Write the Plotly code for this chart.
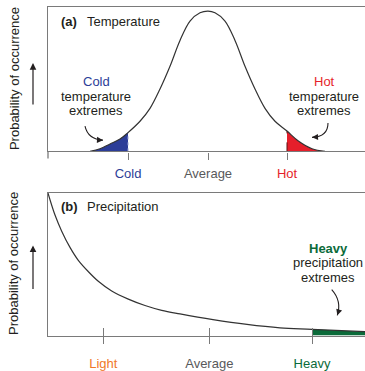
import plotly.graph_objects as go

# ---------------- data ----------------
# Panel (a): temperature distribution (x: temperature offset, y: relative probability)
temp_x = [-11.8, -10.8, -9.8, -8.8, -8.0, -6.8, -5.8, -4.8, -3.8, -2.8, -1.8, -0.8,
          0.0, 0.7, 1.7, 2.7, 3.7, 4.7, 5.7, 6.7, 7.9, 9.0, 10.4, 11.7]
temp_p = [0.0, 0.019, 0.053, 0.088, 0.134, 0.215, 0.307, 0.445, 0.607, 0.791, 0.929, 0.988,
          1.0, 0.988, 0.929, 0.791, 0.607, 0.445, 0.307, 0.215, 0.145, 0.076, 0.019, 0.0]
temp_tick_vals = [-8.0, 0.0, 7.9]
temp_tick_labels = ["Cold", "Average", "Hot"]

# Panel (b): precipitation distribution
prec_x = [0.0, 0.7, 1.37, 2.2, 3.03, 4.03, 5.03, 6.37, 8.03, 9.7, 11.37, 13.2,
          16.5, 19.9, 23.2, 26.4, 31.7]
prec_p = [1.0, 0.846, 0.733, 0.619, 0.528, 0.449, 0.381, 0.313, 0.256, 0.211, 0.177, 0.152,
          0.112, 0.078, 0.054, 0.044, 0.027]
prec_tick_vals = [5.53, 16.13, 26.4]
prec_tick_labels = ["Light", "Average", "Heavy"]

# ---------------- styles ----------------
FONT = "Liberation Sans, Arial, Helvetica, sans-serif"
TXT = "#231f20"
GREY = "#58595b"
AXC = "#7a7a7a"
BLUE = "#2c3d98"
RED = "#e51f2b"
GREEN = "#0b6b3a"
ORANGE = "#f0782a"
FS = 13

W, H = 365, 371
cold_cut, hot_cut = temp_tick_vals[0], temp_tick_vals[2]
heavy_cut = prec_tick_vals[2]

fig = go.Figure()

# --- panel (a) fills ---
cold_idx = [i for i, v in enumerate(temp_x) if v <= cold_cut]
hot_idx = [i for i, v in enumerate(temp_x) if v >= hot_cut]
fig.add_trace(go.Scatter(x=[temp_x[i] for i in cold_idx], y=[temp_p[i] for i in cold_idx],
                         mode="lines", line=dict(width=0, shape="spline"), fill="tozeroy",
                         fillcolor=BLUE, xaxis="x", yaxis="y", hoverinfo="skip"))
fig.add_trace(go.Scatter(x=[temp_x[i] for i in hot_idx], y=[temp_p[i] for i in hot_idx],
                         mode="lines", line=dict(width=0, shape="spline"), fill="tozeroy",
                         fillcolor=RED, xaxis="x", yaxis="y", hoverinfo="skip"))
ci = cold_idx[-1]
hi = hot_idx[0]
fig.add_trace(go.Scatter(x=[temp_x[ci], temp_x[ci]], y=[0, temp_p[ci]], mode="lines",
                         line=dict(color="#9aa3d6", width=1, dash="dot"),
                         xaxis="x", yaxis="y", hoverinfo="skip"))
fig.add_trace(go.Scatter(x=[temp_x[hi], temp_x[hi]], y=[0, temp_p[hi]], mode="lines",
                         line=dict(color="#5a1010", width=1, dash="dash"),
                         xaxis="x", yaxis="y", hoverinfo="skip"))
# curve
fig.add_trace(go.Scatter(x=temp_x, y=temp_p, mode="lines",
                         line=dict(color="#333333", width=1.2, shape="spline"),
                         xaxis="x", yaxis="y", hoverinfo="skip"))

# --- panel (b) ---
heavy_idx = [i for i, v in enumerate(prec_x) if v >= heavy_cut]
fig.add_trace(go.Scatter(x=[prec_x[i] for i in heavy_idx], y=[prec_p[i] for i in heavy_idx],
                         mode="lines", line=dict(width=0, shape="spline"), fill="tozeroy",
                         fillcolor=GREEN, xaxis="x2", yaxis="y2", hoverinfo="skip"))
fig.add_trace(go.Scatter(x=prec_x, y=prec_p, mode="lines",
                         line=dict(color="#333333", width=1.2, shape="spline"),
                         xaxis="x2", yaxis="y2", hoverinfo="skip"))

dom_x = [48 / W, 1.0]
dom_a = [1 - 156 / H, 1 - 7 / H]
dom_b = [1 - 345.8 / H, 1 - 199 / H]


def colored(labels, colors):
    return [f'<span style="color:{c}">{t}</span>' for t, c in zip(labels, colors)]


xcommon = dict(showgrid=False, zeroline=False, showline=True, linecolor=AXC, linewidth=1.3,
               mirror=True, ticks="outside", ticklen=7, tickcolor=AXC, tickwidth=1.2,
               tickfont=dict(family=FONT, size=FS, color=GREY), fixedrange=True)
ycommon = dict(showgrid=False, zeroline=False, showline=True, linecolor=AXC, linewidth=1.3,
               showticklabels=False, ticks="", fixedrange=True)

fig.update_layout(
    width=W, height=H, margin=dict(l=0, r=0, t=0, b=0),
    paper_bgcolor="white", plot_bgcolor="white", showlegend=False,
    font=dict(family=FONT, size=FS, color=TXT),
    xaxis=dict(domain=dom_x, anchor="y", range=[-16.0, 15.7],
               tickvals=temp_tick_vals,
               ticktext=colored(temp_tick_labels, [BLUE, GREY, RED]),
               ticklabelstandoff=3, **xcommon),
    yaxis=dict(domain=dom_a, anchor="x", range=[0, 1.031], **ycommon),
    xaxis2=dict(domain=dom_x, anchor="y2", range=[0, 31.7],
                tickvals=prec_tick_vals,
                ticktext=colored(prec_tick_labels, [ORANGE, GREY, GREEN]),
                ticklabelstandoff=9, **xcommon),
    yaxis2=dict(domain=dom_b, anchor="x2", range=[0, 1.0], **ycommon),
    # inner half of the crossing ticks on panel (b)
    xaxis3=dict(domain=dom_x, anchor="y2", overlaying="x2", matches="x2",
                range=[0, 31.7], tickvals=prec_tick_vals, showticklabels=False,
                ticks="inside", ticklen=8, tickcolor=AXC, tickwidth=1.2,
                showgrid=False, zeroline=False, showline=False, fixedrange=True),
)
# dummy trace to activate xaxis3
fig.add_trace(go.Scatter(x=[prec_x[0]], y=[prec_p[0]], mode="markers",
                         marker=dict(opacity=0), xaxis="x3", yaxis="y2", hoverinfo="skip"))

ann = []
# panel titles
ann.append(dict(xref="x", yref="y", x=-14.9, y=0.927, text="<b>(a)</b>", xanchor="left",
                yanchor="middle", showarrow=False, font=dict(size=FS, color=TXT)))
ann.append(dict(xref="x", yref="y", x=-12.3, y=0.927, text="Temperature", xanchor="left",
                yanchor="middle", showarrow=False, font=dict(size=FS, color=TXT)))
ann.append(dict(xref="x2", yref="y2", x=1.1, y=0.903, text="<b>(b)</b>", xanchor="left",
                yanchor="middle", showarrow=False, font=dict(size=FS, color=TXT)))
ann.append(dict(xref="x2", yref="y2", x=3.7, y=0.903, text="Precipitation", xanchor="left",
                yanchor="middle", showarrow=False, font=dict(size=FS, color=TXT)))

# labels
for txt, yy, col in [("Cold", 0.498, BLUE), ("temperature", 0.394, TXT), ("extremes", 0.291, TXT)]:
    ann.append(dict(xref="x", yref="y", x=-11.2, y=yy, text=txt, showarrow=False,
                    xanchor="center", yanchor="middle", font=dict(size=FS, color=col)))
for txt, yy, col in [("Hot", 0.498, RED), ("temperature", 0.394, TXT), ("extremes", 0.291, TXT)]:
    ann.append(dict(xref="x", yref="y", x=11.6, y=yy, text=txt, showarrow=False,
                    xanchor="center", yanchor="middle", font=dict(size=FS, color=col)))
for txt, yy, col in [("<b>Heavy</b>", 0.614, GREEN), ("precipitation", 0.512, TXT),
                     ("extremes", 0.410, TXT)]:
    ann.append(dict(xref="x2", yref="y2", x=28.0, y=yy, text=txt, showarrow=False,
                    xanchor="center", yanchor="middle", font=dict(size=FS, color=col)))

# y-axis titles and up arrows
for yc in [1 - 81.5 / H, 1 - 272 / H]:
    ann.append(dict(xref="paper", yref="paper", x=14 / W, y=yc, text="Probability of occurrence",
                    textangle=-90, showarrow=False, xanchor="center", yanchor="middle",
                    font=dict(size=FS, color=TXT)))
for yh, length in [(65, 43), (253, 45)]:
    ann.append(dict(xref="paper", yref="paper", x=33 / W, y=1 - yh / H, text="",
                    showarrow=True, ax=0, ay=length, arrowhead=2, arrowsize=1.1,
                    arrowwidth=1.2, arrowcolor=TXT, standoff=0))

# curved arrows: bodies as paths, heads as short annotation arrows
shapes = []
curves = [
    ("x", "y", (-12.3, 0.18), (-12.0, 0.085), (-10.5, 0.08)),
    ("x", "y", (12.0, 0.203), (12.0, 0.105), (10.4, 0.10)),
    ("x2", "y2", (28.37, 0.323), (29.4, 0.243), (28.93, 0.142)),
]
for xr, yr, p0, pc, p1 in curves:
    shapes.append(dict(type="path", xref=xr, yref=yr,
                       path=f"M {p0[0]},{p0[1]} Q {pc[0]},{pc[1]} {p1[0]},{p1[1]}",
                       line=dict(color=TXT, width=1.1)))
    tx = p1[0] + (pc[0] - p1[0]) * 0.35
    ty = p1[1] + (pc[1] - p1[1]) * 0.35
    ann.append(dict(xref=xr, yref=yr, axref=xr, ayref=yr, x=p1[0], y=p1[1], ax=tx, ay=ty,
                    text="", showarrow=True, arrowhead=2, arrowsize=1.1, arrowwidth=1.1,
                    arrowcolor=TXT, standoff=0))

# left frame line in (a) continues down to tick length
shapes.append(dict(type="line", xref="x domain", yref="y domain", x0=0, x1=0, y0=0, y1=-0.05,
                   line=dict(color=AXC, width=1.3)))

fig.update_layout(annotations=ann, shapes=shapes)
fig.write_html("out.html")
